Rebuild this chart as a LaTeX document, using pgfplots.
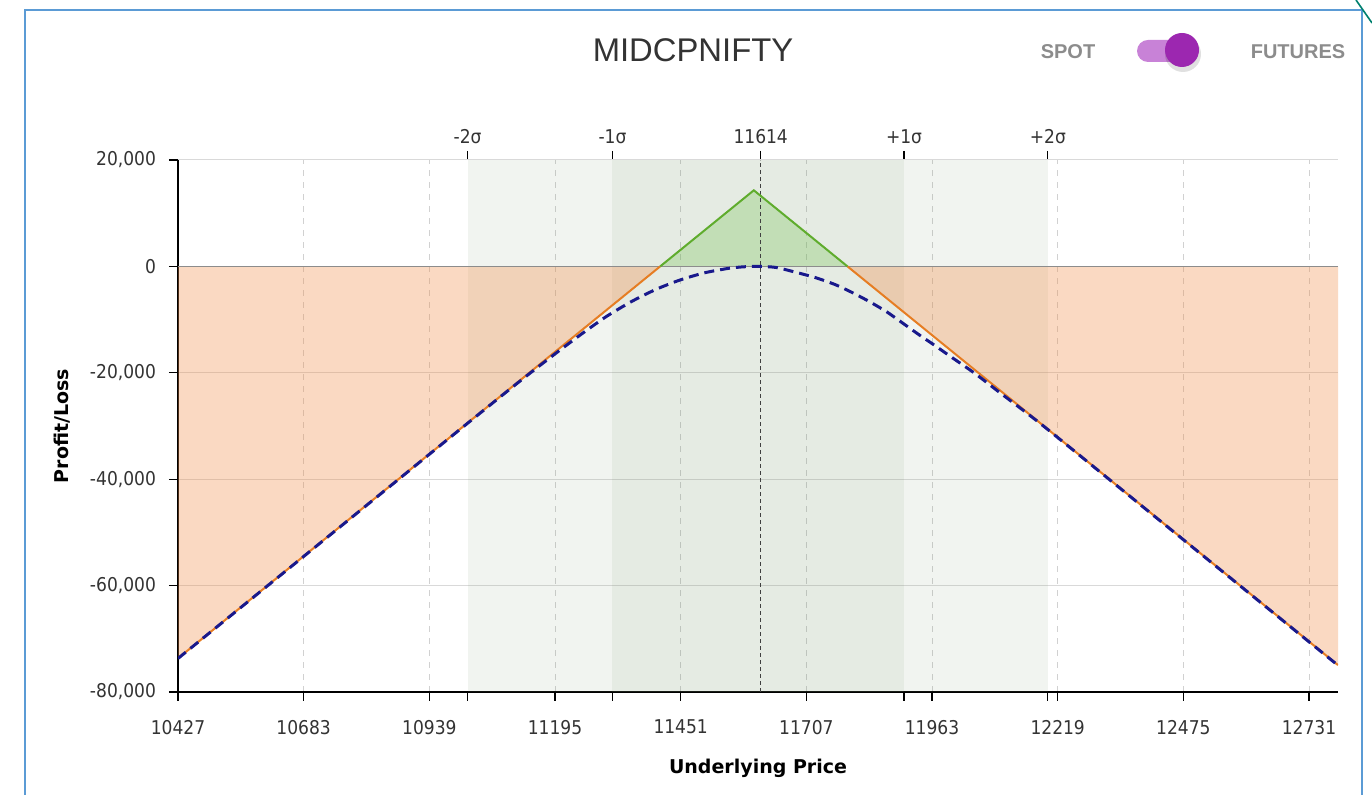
\documentclass[border=0pt]{standalone}
\usepackage{pgfplots}
\pgfplotsset{compat=1.18}
\usepackage{fontspec}
\setmainfont{Liberation Sans}
\newfontfamily\tickfont{DejaVu Sans Condensed}
\newfontfamily\labfont{DejaVu Sans}
\definecolor{bandc}{RGB}{120,150,110}
\definecolor{orfill}{RGB}{240,140,70}
\definecolor{orline}{RGB}{230,125,35}
\definecolor{grline}{RGB}{95,172,45}
\definecolor{grfill}{RGB}{100,190,60}
\definecolor{navy}{RGB}{25,25,140}
\definecolor{frameblue}{RGB}{91,155,213}
\definecolor{knob}{RGB}{156,39,176}
\definecolor{track}{RGB}{200,130,215}
\begin{document}
\begin{tikzpicture}[x=1pt,y=1pt]
\useasboundingbox (0,0) rectangle (686,397.5);
\draw[frameblue, line width=1pt] (12.5,0) -- (12.5,392.5) -- (681,392.5) -- (681,0);
\draw[color={rgb,255:red,0;green,128;blue,110}, line width=0.8pt] (678,397.5) -- (686,386);
\node[font=\fontsize{16.4}{18}\selectfont, text=black!80] at (346.5,372.5) {MIDCPNIFTY};
\node[font=\bfseries\fontsize{10}{12}\selectfont, text=black!45] at (534,371.5) {SPOT};
\node[font=\bfseries\fontsize{10}{12}\selectfont, text=black!45] at (649,371.5) {FUTURES};
\fill[track, rounded corners=5.5pt] (568.5,366.5) rectangle (594,377.5);
\fill[black, opacity=0.12] (591.5,370.5) circle (9);
\fill[knob] (591,372.5) circle (8.5);
\begin{axis}[
  at={(89pt,51.5pt)}, anchor=south west,
  scale only axis, width=580pt, height=266pt,
  xmin=10427, xmax=12790, ymin=-80000, ymax=20000,
  scaled x ticks=false, scaled y ticks=false,
  axis x line*=bottom, axis y line*=left,
  axis line style={-, black, line width=0.8pt},
  xtick={10427,10683,10939,11195,11451,11707,11963,12219,12475,12731},
  xticklabels={10427,10683,10939,11195,11451,11707,11963,12219,12475,12731},
  extra x ticks={11017,11312,11906,12199},
  extra x tick labels={},
  extra x tick style={grid=none},
  ytick={-80000,-60000,-40000,-20000,0,20000},
  yticklabels={{-80,000},{-60,000},{-40,000},{-20,000},{0},{20,000}},
  tick align=outside, major tick length=4.5pt,
  tick style={black, line width=0.6pt},
  xticklabel style={font=\tickfont\fontsize{9.5}{11}\selectfont, text=black!80, yshift=-6pt, text depth=0pt},
  yticklabel style={font=\tickfont\fontsize{9.5}{11}\selectfont, text=black!80, xshift=-3pt},
  xmajorgrids, ymajorgrids,
  every axis x grid/.append style={dashed, black!18, line width=0.5pt},
  every axis y grid/.append style={solid, black!15, line width=0.5pt},
  xlabel={Underlying Price}, ylabel={Profit/Loss},
  every axis x label/.style={at={(axis description cs:0.5,-0.143)}, anchor=center, font=\labfont\bfseries\fontsize{9.5}{11}\selectfont},
  every axis y label/.style={at={(axis description cs:-0.1,0.5)}, rotate=90, anchor=center, font=\labfont\bfseries\fontsize{9.5}{11}\selectfont},
]
% sigma bands
\addplot[fill=bandc, fill opacity=0.1, draw=none] coordinates {(11017,-80000)(11017,20000)(12199,20000)(12199,-80000)} -- cycle;
\addplot[fill=bandc, fill opacity=0.1, draw=none] coordinates {(11312,-80000)(11312,20000)(11906,20000)(11906,-80000)} -- cycle;
% loss areas
\addplot[fill=orfill, fill opacity=0.33, draw=none] coordinates {(10427,0)(10427,-73675)(11409.3,0)} -- cycle;
\addplot[fill=orfill, fill opacity=0.33, draw=none] coordinates {(11790.7,0)(12790,-74950)(12790,0)} -- cycle;
% profit area
\addplot[fill=grfill, fill opacity=0.27, draw=none] coordinates {(11409.3,0)(11600,14300)(11790.7,0)} -- cycle;
% zero line
\addplot[black!45, line width=0.6pt] coordinates {(10427,0)(12790,0)};
% spot line
\addplot[black!75, line width=0.5pt, dash pattern=on 2pt off 1.5pt] coordinates {(11614,-80000)(11614,20000)};
% expiry payoff
\addplot[orline, line width=1pt] coordinates {(10427,-73675)(11409.3,0)};
\addplot[orline, line width=1pt] coordinates {(11790.7,0)(12790,-74950)};
\addplot[grline, line width=1pt] coordinates {(11409.3,0)(11600,14300)(11790.7,0)};
% T+0 curve
\addplot[navy, line width=1.5pt, dash pattern=on 5pt off 3pt, smooth, tension=0.4] coordinates {
(10427,-73700)(10700,-53250)(10900,-38250)(11000,-30750)(11100,-23300)(11150,-19650)
(11200,-16100)(11250,-12650)(11300,-9400)(11350,-6650)(11400,-4350)(11450,-2550)
(11500,-1200)(11550,-350)(11580,-80)(11610,0)(11645,-200)(11685,-1100)(11725,-2100)
(11765,-3400)(11800,-4900)(11835,-6600)(11870,-8500)(11900,-10450)(11935,-12750)
(11970,-14950)(12000,-16900)(12050,-20100)(12100,-23650)(12150,-27150)(12200,-30750)
(12400,-45750)(12600,-60750)(12790,-75000)};
\end{axis}
\begin{axis}[
  at={(89pt,51.5pt)}, anchor=south west,
  scale only axis, width=580pt, height=266pt,
  xmin=10427, xmax=12790, ymin=0, ymax=1,
  scaled x ticks=false, scaled y ticks=false,
  axis x line*=top, axis y line=none,
  x axis line style={-, draw=black!15, line width=0.5pt},
  xtick={11017,11312,11614,11906,12199},
  xticklabels={-2σ,-1σ,11614,+1σ,+2σ},
  tick align=outside, major tick length=4.5pt,
  tick style={black, line width=0.6pt},
  xticklabel style={font=\tickfont\fontsize{9.5}{11}\selectfont, text=black!80},
]
\addplot[draw=none] coordinates {(11000,0.5)};
\end{axis}
\end{tikzpicture}
\end{document}
